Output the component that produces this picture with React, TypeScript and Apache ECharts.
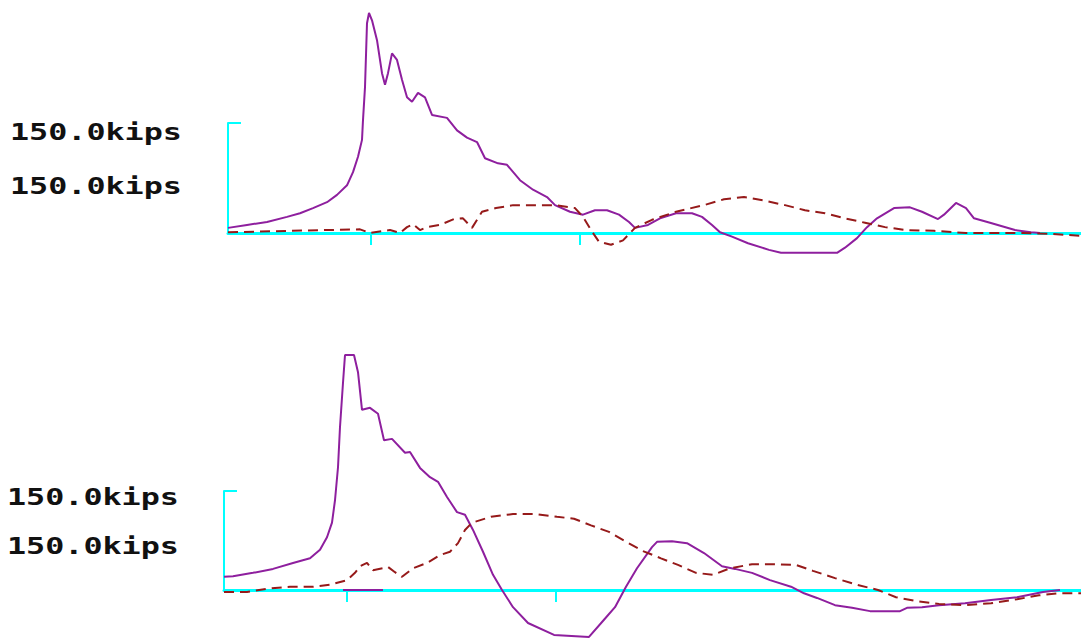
import React, { useEffect, useRef } from "react";
import * as echarts from "echarts";

// Axis label texts
const labelText = "150.0kips";
const axisTopKips = 150;

// Tick positions (time steps) on each panel
const topTicks = [143, 352];
const bottomTicks = [123, 332];

// Top panel: [time step, kips]
const topSolid: number[][] = [
  [0, 7], [19, 11], [39, 15], [59, 22], [72, 27], [85, 34], [99, 42], [109, 52], [119, 65],
  [125, 83], [130, 104], [134, 127], [135, 154], [137, 199], [139, 286], [141, 300], [144, 290],
  [149, 263], [154, 218], [157, 202], [160, 218], [164, 245], [169, 236], [174, 209], [179, 185],
  [184, 179], [190, 191], [197, 185], [204, 161], [219, 157], [229, 140], [239, 130], [249, 124],
  [257, 102], [270, 95], [279, 93], [292, 72], [305, 59], [319, 49], [327, 38], [342, 29],
  [355, 25], [367, 31], [379, 31], [391, 25], [401, 15], [407, 7], [420, 11], [432, 20],
  [448, 27], [464, 27], [474, 22], [484, 11], [492, 1], [504, -5], [520, -14], [541, -23],
  [553, -27], [609, -27], [617, -20], [629, -7], [639, 8], [649, 20], [666, 34], [682, 35],
  [694, 29], [710, 19], [716, 25], [728, 41], [738, 34], [746, 20], [762, 14], [787, 4],
  [803, 1], [812, 0],
];
const topDashed: number[][] = [
  [0, 1], [62, 3], [132, 5], [142, 0], [162, 4], [172, 0], [179, 8], [185, 12], [192, 4],
  [199, 8], [212, 11], [226, 19], [235, 20], [244, 7], [254, 29], [268, 34], [285, 38],
  [312, 38], [327, 38], [347, 34], [355, 22], [363, 4], [371, -12], [383, -16], [395, -10],
  [407, 7], [424, 18], [448, 29], [476, 38], [496, 46], [516, 49], [537, 44], [557, 38],
  [577, 31], [597, 27], [617, 20], [637, 14], [657, 8], [678, 4], [706, 3], [738, 0],
  [795, 0], [823, -1], [853, -4],
];

// Bottom panel: [time step, kips]
const bottomSolid: number[][] = [
  [0, 20], [9, 21], [29, 26], [49, 32], [69, 41], [86, 48], [96, 61], [103, 80], [108, 102],
  [111, 136], [114, 186], [116, 247], [119, 314], [121, 356], [130, 356], [134, 330], [138, 273],
  [146, 276], [154, 267], [160, 227], [168, 229], [181, 208], [186, 209], [196, 185], [206, 171],
  [214, 164], [223, 141], [233, 118], [241, 114], [249, 91], [259, 58], [269, 23], [278, 0],
  [289, -26], [304, -50], [330, -68], [365, -71], [380, -45], [391, -26], [402, 5], [413, 33],
  [428, 65], [433, 73], [448, 74], [463, 71], [480, 56], [498, 36], [511, 32], [528, 26],
  [546, 15], [567, 5], [580, -5], [593, -12], [611, -23], [628, -27], [646, -32], [676, -32],
  [683, -27], [698, -26], [715, -23], [741, -20], [767, -15], [793, -11], [819, -3], [836, 0],
];
const bottomDashed: number[][] = [
  [0, -3], [23, -3], [43, 2], [66, 5], [89, 5], [106, 8], [123, 15], [131, 26], [136, 36],
  [143, 41], [149, 30], [159, 33], [164, 35], [171, 27], [178, 20], [189, 33], [203, 41],
  [216, 53], [226, 58], [234, 71], [241, 91], [248, 102], [267, 111], [289, 115], [311, 115],
  [333, 111], [350, 108], [367, 98], [385, 88], [402, 73], [419, 59], [437, 48], [454, 38],
  [472, 26], [489, 23], [506, 33], [528, 39], [550, 39], [572, 38], [589, 29], [611, 18],
  [633, 8], [654, 0], [672, -11], [693, -17], [715, -21], [741, -23], [767, -20], [793, -14],
  [815, -8], [833, -5], [857, -5],
];
// Short solid marker lying on the bottom baseline
const bottomMarker: number[][] = [[119, 0], [159, 0]];

const CYAN = "#00ffff";
const PURPLE = "#8e1f9e";
const DARKRED = "#961a1a";

export default function App() {
  const ref = useRef<HTMLDivElement>(null);

  useEffect(() => {
    if (!ref.current) return;
    const chart = echarts.init(ref.current, undefined, { renderer: "svg" });

    const dataXAxis = (gridIndex: number, max: number, ticks: number[]) => ({
      type: "value",
      gridIndex,
      min: 0,
      max,
      axisLine: { show: true, onZero: true, lineStyle: { color: CYAN, width: 3 } },
      axisTick: {
        show: true,
        customValues: ticks,
        length: 12,
        lineStyle: { color: CYAN, width: 2 },
      },
      axisLabel: { show: false },
      splitLine: { show: false },
    });
    const dataYAxis = (gridIndex: number, min: number, max: number) => ({
      type: "value",
      gridIndex,
      min,
      max,
      axisLine: { show: false },
      axisTick: { show: false },
      axisLabel: { show: false },
      splitLine: { show: false },
    });
    const frameXAxis = (gridIndex: number) => ({
      type: "value",
      gridIndex,
      min: 0,
      max: 1,
      show: false,
    });
    const frameYAxis = (gridIndex: number) => ({
      type: "value",
      gridIndex,
      min: 0,
      max: axisTopKips,
      axisLine: { show: true, onZero: false, lineStyle: { color: CYAN, width: 2 } },
      axisTick: {
        show: true,
        inside: true,
        length: 13,
        customValues: [axisTopKips],
        lineStyle: { color: CYAN, width: 2 },
      },
      axisLabel: { show: false },
      splitLine: { show: false },
    });

    const solid = (data: number[][], idx: number) => ({
      type: "line",
      xAxisIndex: idx,
      yAxisIndex: idx,
      data,
      symbol: "none",
      lineStyle: { color: PURPLE, width: 2 },
      z: 3,
    });
    const dashed = (data: number[][], idx: number) => ({
      type: "line",
      xAxisIndex: idx,
      yAxisIndex: idx,
      data,
      symbol: "none",
      lineStyle: { color: DARKRED, width: 2, type: [10, 6] },
      z: 4,
    });

    const textStyle = {
      fill: "#111",
      font: 'bold 23px "DejaVu Sans Mono"',
      textVerticalAlign: "top",
    };

    chart.setOption({
      animation: false,
      backgroundColor: "#ffffff",
      grid: [
        { left: 228, right: 0, top: 2, height: 264 },
        { left: 224, right: 0, top: 352.4, height: 289.1 },
        { left: 228, top: 123, height: 110, width: 40 },
        { left: 224, top: 491, height: 99, width: 40 },
      ],
      xAxis: [
        dataXAxis(0, 853, topTicks),
        dataXAxis(1, 857, bottomTicks),
        frameXAxis(2),
        frameXAxis(3),
      ],
      yAxis: [
        dataYAxis(0, -45, 315),
        dataYAxis(1, -78, 360),
        frameYAxis(2),
        frameYAxis(3),
      ],
      series: [
        solid(topSolid, 0),
        dashed(topDashed, 0),
        solid(bottomSolid, 1),
        dashed(bottomDashed, 1),
        solid(bottomMarker, 1),
      ],
      graphic: [
        { type: "text", x: 10, y: 121, scaleX: 1.38, style: { ...textStyle, text: labelText } },
        { type: "text", x: 10, y: 175, scaleX: 1.38, style: { ...textStyle, text: labelText } },
        { type: "text", x: 7, y: 486, scaleX: 1.38, style: { ...textStyle, text: labelText } },
        { type: "text", x: 7, y: 535, scaleX: 1.38, style: { ...textStyle, text: labelText } },
      ],
    });

    return () => chart.dispose();
  }, []);

  return (
    <div
      ref={ref}
      style={{ position: "absolute", left: 0, top: 0, width: 1081, height: 642 }}
    />
  );
}
